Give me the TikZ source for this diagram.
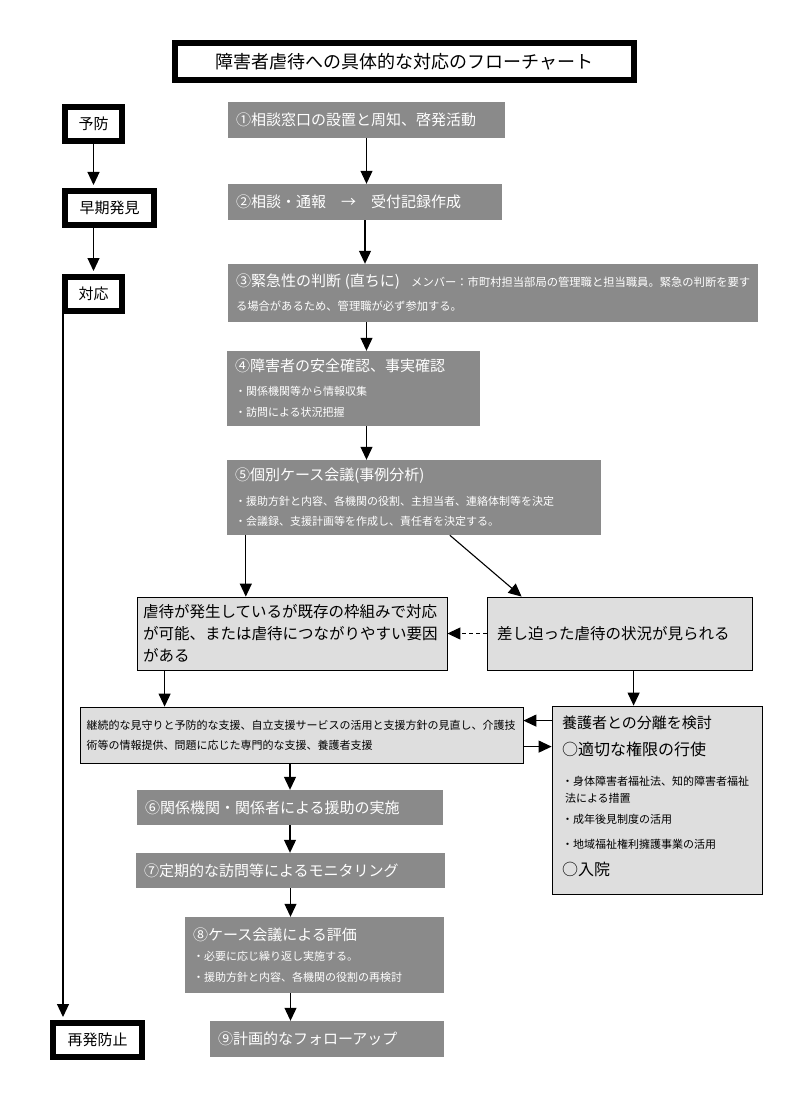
\documentclass[tikz,border=0pt]{standalone}
\usepackage{fontspec}
\setmainfont{Noto Sans CJK JP}
\usepackage{xcolor}
\usepackage{tikz}
\usetikzlibrary{calc}
\usetikzlibrary{arrows.meta}
\usetikzlibrary{positioning}
\definecolor{stepgray}{RGB}{138,138,138}
\definecolor{casegray}{RGB}{222,222,222}
\tikzstyle{stagenode}=[black, draw=black, line width=6pt, shape=rectangle, fill=white, inner sep=0pt, font=\fontsize{15}{18}\selectfont]
\tikzstyle{stepnode}=[shape=rectangle, fill=stepgray, text=white, inner xsep=8pt, inner ysep=0pt, align=left, font=\fontsize{11}{21}\selectfont]
\tikzstyle{casenode}=[black, draw=black, line width=0.8pt, shape=rectangle, fill=casegray, inner xsep=6pt, inner ysep=0pt, align=left]
\tikzstyle{flowarrow}=[-{Triangle[length=13pt, width=12pt]}, line width=1.1pt, color=black]

\begin{document}
\begin{tikzpicture}[x=1pt, y=-1pt]
\useasboundingbox (0,0) rectangle (798,1099);

\node [stagenode, minimum width=459pt, minimum height=37pt, font=\fontsize{18}{22}\selectfont] (title) at (404.5,61.5) {障害者虐待への具体的な対応のフローチャート};

\node [stagenode, minimum width=57pt, minimum height=34pt] (yobou) at (93.5,124) {予防};
\node [stagenode, minimum width=89pt, minimum height=34pt] (souki) at (109.5,208) {早期発見};
\node [stagenode, minimum width=57pt, minimum height=34pt] (taiou) at (93.5,294) {対応};
\node [stagenode, minimum width=89pt, minimum height=34pt] (saihatsu) at (97.5,1040) {再発防止};

\node [stepnode, text width=261pt, minimum height=36pt, font=\fontsize{15}{18}\selectfont] (step1) at (366.5,120) {①相談窓口の設置と周知、啓発活動};
\node [stepnode, text width=258pt, minimum height=36pt, font=\fontsize{15}{18}\selectfont] (step2) at (365,202) {②相談・通報　→　受付記録作成};
\node [stepnode, text width=514pt, minimum height=58pt, font=\fontsize{11.3}{24}\selectfont] (step3) at (493,293) {{\fontsize{15}{18}\selectfont ③緊急性の判断 (直ちに)}\quad メンバー：市町村担当部局の管理職と担当職員。緊急の判断を要す\\る場合があるため、管理職が必ず参加する。};
\node [stepnode, text width=237pt, minimum height=75pt] (step4) at (353.5,388.5) {{\fontsize{15}{18}\selectfont ④障害者の安全確認、事実確認}\\[3pt]・関係機関等から情報収集\\・訪問による状況把握};
\node [stepnode, text width=358pt, minimum height=75pt, font=\fontsize{11}{20}\selectfont] (step5) at (414,497.5) {{\fontsize{15}{18}\selectfont ⑤個別ケース会議(事例分析)}\\[5pt]・援助方針と内容、各機関の役割、主担当者、連絡体制等を決定\\・会議録、支援計画等を作成し、責任者を決定する。};

\node [casenode, text width=298pt, minimum height=73pt, font=\fontsize{15.5}{22}\selectfont] (lbox) at (292,633.5) {虐待が発生しているが既存の枠組みで対応\\が可能、または虐待につながりやすい要因\\がある};
\node [casenode, inner xsep=10pt, text width=245pt, minimum height=73pt, font=\fontsize{15.5}{22}\selectfont] (rbox) at (619.5,633.5) {差し迫った虐待の状況が見られる};
\node [casenode, inner xsep=6.5pt, text width=430pt, minimum height=56pt, font=\fontsize{11}{20}\selectfont] (wide) at (301.5,735) {継続的な見守りと予防的な支援、自立支援サービスの活用と支援方針の見直し、介護技\\術等の情報提供、問題に応じた専門的な支援、養護者支援};
\node [casenode, inner xsep=10pt, inner ysep=10pt, font=\fontsize{11}{17}\selectfont] (yougo) at (657,800) {\begin{minipage}[t][168pt][t]{190pt}\raggedright
{\fontsize{15}{18}\selectfont 養護者との分離を検討}\\[10pt]
{\fontsize{16}{18}\selectfont ○適切な権限の行使}\\[13pt]
・身体障害者福祉法、知的障害者福祉\\
\hspace*{3pt}法による措置\\[4pt]
・成年後見制度の活用\\[8pt]
・地域福祉権利擁護事業の活用\\[10pt]
{\fontsize{16}{18}\selectfont ○入院}
\end{minipage}};

\node [stepnode, text width=290pt, minimum height=35pt, font=\fontsize{15}{18}\selectfont] (step6) at (290,807.5) {⑥関係機関・関係者による援助の実施};
\node [stepnode, text width=293pt, minimum height=35pt, font=\fontsize{15}{18}\selectfont] (step7) at (290.5,870.5) {⑦定期的な訪問等によるモニタリング};
\node [stepnode, text width=243pt, minimum height=76pt] (step8) at (314.5,955) {{\fontsize{15}{18}\selectfont ⑧ケース会議による評価}\\[-1pt]・必要に応じ繰り返し実施する。\\・援助方針と内容、各機関の役割の再検討};
\node [stepnode, text width=218pt, minimum height=36pt, font=\fontsize{15}{18}\selectfont] (step9) at (327,1039) {⑨計画的なフォローアップ};

% left column
\draw [flowarrow, shorten >=3pt] (yobou.south) -- (yobou.south |- souki.north);
\draw [flowarrow, shorten >=3pt] (taiou.north |- souki.south) -- (taiou.north);
\coordinate (returnstart) at ($(taiou.south west)+(1,0)$);
\draw [flowarrow, shorten >=3pt] (returnstart) -- (returnstart |- saihatsu.north);

% main steps
\draw [flowarrow] (step1.south) -- (step1.south |- step2.north);
\draw [flowarrow] (step2.south) -- (step2.south |- step3.north);
\draw [flowarrow] (step1.south |- step3.south) -- (step1.south |- step4.north);
\draw [flowarrow] (step1.south |- step4.south) -- (step1.south |- step5.north);

\coordinate (split5L) at ($(step5.south west)+(19,0)$);
\coordinate (split5R) at ($(step5.south west)+(223,0)$);
\coordinate (urgentin) at ($(rbox.north west)+(35,0)$);
\draw [flowarrow] (split5L) -- (split5L |- lbox.north);
\draw [flowarrow] (split5R) -- (urgentin);
\draw [flowarrow, dash pattern=on 4pt off 3pt] (rbox.west) -- (rbox.west -| lbox.east);

\coordinate (lboxout) at ($(lbox.south west)+(28,0)$);
\coordinate (rboxout) at ($(rbox.south west)+(147,0)$);
\draw [flowarrow] (lboxout) -- (lboxout |- wide.north);
\draw [flowarrow] (rboxout) -- (rboxout |- yougo.north);
\coordinate (backin) at ($(yougo.north west)+(0,15)$);
\coordinate (forwardin) at ($(yougo.north west)+(0,41)$);
\draw [flowarrow] (backin) -- (backin -| wide.east);
\draw [flowarrow] (forwardin -| wide.east) -- (forwardin);

\draw [flowarrow] (step6.north |- wide.south) -- (step6.north);
\draw [flowarrow] (step6.south) -- (step6.south |- step7.north);
\draw [flowarrow] (step7.south) -- (step7.south |- step8.north);
\draw [flowarrow] (step7.south |- step8.south) -- (step7.south |- step9.north);
\end{tikzpicture}
\end{document}
